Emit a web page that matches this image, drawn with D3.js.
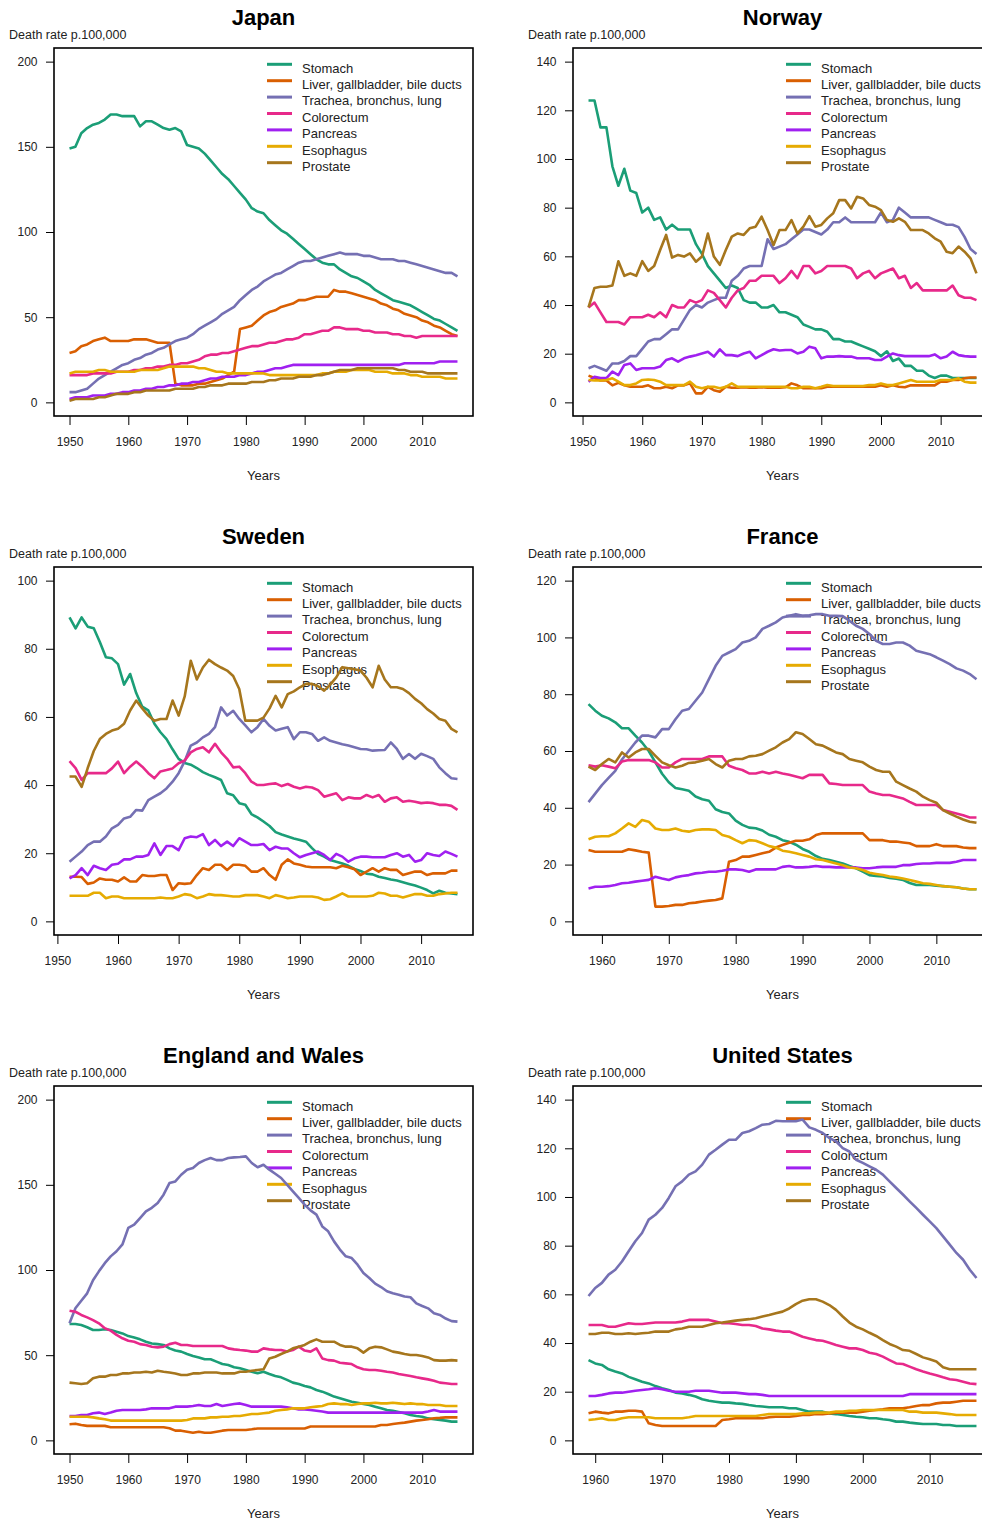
<!DOCTYPE html>
<html>
<head>
<meta charset="utf-8">
<script src="https://cdn.jsdelivr.net/npm/d3@7"></script>
<style>
  body { margin: 0; background: #fff; overflow: hidden; }
  svg { display: block; }
  text { font-family: "Liberation Sans", Arial, sans-serif; fill: #222; }
</style>
</head>
<body>
<svg id="chart" width="982" height="1519"></svg>
<script>
// --- categories / settings ---
const cancers = ["Stomach", "Liver, gallbladder, bile ducts", "Trachea, bronchus, lung",
  "Colorectum", "Pancreas", "Esophagus", "Prostate"];
const colors = ["#1b9e77", "#d95f02", "#7570b3", "#e7298a", "#a020f0", "#e6ab02", "#a6761d"];
const countries = ["Japan", "Norway", "Sweden", "France", "England and Wales", "United States"];
const firstYears = [1950, 1951, 1952, 1958, 1950, 1959];
const yMax = [200, 140, 100, 120, 200, 140];
const yStep = [50, 20, 20, 20, 50, 20];
const xTicks = [1950, 1960, 1970, 1980, 1990, 2000, 2010];

// --- Japan 1950-2016 ---
const japanStomach = [149,150,158,161,163,164,166,169,169,168, 168,168,162,165,165,163,161,160,161,159,
  151,150,149,146,142,138,134,131,127,123, 119,114,112,111,107,104,101,99,96,93,
  90,87,84,82,81,81,78,76,74,73, 71,69,66,64,62,60,59,58,57,55, 53,51,49,48,46,44,42];
const japanLiver = [29,30,33,34,36,37,38,36,36,36, 36,37,37,37,36,35,35,35,11,10,
  10,10,11,11,12,13,14,16,18,43, 44,45,48,51,53,54,56,57,58,60,
  60,61,62,62,62,66,65,65,64,63, 62,61,60,58,57,55,54,52,51,50, 48,47,45,44,42,40,39];
const japanTrachea = [6,6,7,8,11,14,16,18,20,22, 23,25,26,28,29,31,32,34,36,37,
  38,40,43,45,47,49,52,54,56,60, 63,66,68,71,73,75,76,78,80,82,
  83,83,84,85,86,87,88,87,87,87, 86,86,85,84,84,84,83,83,82,81, 80,79,78,77,76,76,74];
const japanColorectum = [16,16,16,16,17,17,17,17,18,18, 18,19,19,20,20,21,21,22,22,23,
  23,24,25,27,28,28,29,29,30,31, 32,33,33,34,35,35,36,37,37,38,
  40,40,41,42,42,44,44,43,43,43, 42,42,41,41,41,40,40,39,39,38, 39,39,39,39,39,39,39];
const japanPancreas = [2,3,3,3,4,4,4,5,5,6, 6,7,7,8,8,9,9,10,10,11,
  11,12,12,13,14,14,15,15,15,16, 16,17,18,18,19,20,20,21,22,22,
  22,22,22,22,22,22,22,22,22,22, 22,22,22,22,22,22,22,23,23,23, 23,23,23,24,24,24,24];
const japanEsophagus = [17,18,18,18,18,19,19,18,18,18, 18,18,19,19,19,19,20,21,21,21,
  21,21,20,20,19,18,18,17,17,17, 17,17,17,17,16,16,16,16,16,16,
  16,16,16,17,17,18,18,18,19,19, 19,19,18,18,18,17,17,17,16,16, 15,15,15,15,14,14,14];
const japanProstate = [1,2,2,2,2,3,3,4,5,5, 5,6,6,7,7,7,7,7,8,8,
  8,8,9,9,10,10,10,11,11,11, 11,12,12,12,13,13,14,14,14,15,
  15,15,16,16,17,18,19,19,19,20, 20,20,20,20,20,20,19,19,18,18, 18,17,17,17,17,17,17];

// --- Norway 1951-2016 ---
const norwayStomach = [124,124,113,113,97,89,96,87,86,78, 80,75,76,71,73,71,71,71,65,61,
  56,53,50,47,48,47,42,41,41,39, 39,40,37,37,36,35,32,31,30,30,
  29,26,26,25,25,24,23,22,21,19, 21,17,18,15,15,13,13,11,10,11, 11,10,10,10,10,10];
const norwayLiver = [11,10,9,9,7,8,7,6.4,6.4,6.4, 7,5.8,5.8,6.4,5.8,7,7,7.8,3.7,3.7,
  6.4,5,4.4,6.4,6,6,6.2,6,6,6.2, 6,6,6,6.2,7.8,7,5.8,5.8,5.8,5.8,
  6.4,6.4,6.4,6.4,6.4,6.4,6.4,6.4,6.4,7, 6.4,7,6.4,6.2,7,7,7,7,7,8.5, 8.5,9.2,9.2,9.9,10.2,10.2];
const norwayTrachea = [14,15,14,13,16,16,17,19,19,22, 25,26,26,28,30,30,34,38,40,39,
  41,42,43,43,50,52,55,56,56,56, 67,63,64,65,67,69,71,71,70,69,
  71,74,74,76,74,74,74,74,74,78, 74,75,80,78,76,76,76,76,75,74, 73,73,72,68,63,61];
const norwayColorectum = [39,41,37,33,33,33,32,35,35,35, 36,35,37,35,40,39,39,42,41,42,
  46,45,42,39,43,46,47,50,50,52, 52,52,49,51,54,51,56,56,53,54,
  56,56,56,56,55,51,53,54,51,53, 54,55,51,52,47,49,46,46,46,46, 46,48,44,43,43,42];
const norwayPancreas = [8.5,10.5,10,10,12.6,11.2,15.4,16,13.3,14, 14,14,14.7,17.4,18.1,16.7,18.1,18.8,19.4,20.1,
  20.8,18.8,21.8,19.4,19.4,19,20.1,20.8,18.1,19.4, 20.8,21.8,21.3,21.5,21.5,20.1,20.8,22.9,22.2,18.1,
  18.8,18.8,19,18.8,18.8,18.1,18.1,18.1,17.4,17.4, 18.8,20.1,19.4,19,19,19,19,19,19.7,18.1, 18.8,20.8,19.4,19,18.8,18.8];
const norwayEsophagus = [9.2,9,9,9.2,9.9,8.5,7.1,7.1,7.8,9.2, 9.4,9.2,8.5,7.1,7.1,7.1,7.1,8.5,6.4,5.8,
  6.4,6.4,5.8,6.4,7.8,6.4,6.4,6.4,6.4,6.4, 6.4,6.4,6.4,6.4,5.8,5.8,6.4,6.4,5.8,6.4,
  7.1,6.7,6.7,6.7,6.7,6.7,6.7,7.1,7.1,7.8, 7.1,7.1,7.8,8.5,9.2,8.5,8.5,8.5,8.5,9.2, 9.2,9.2,9.9,8.5,8.1,8.1];
const norwayProstate = [39,47,47.5,47.5,48,58,52,53,52,58, 54,56,62.6,68.8,59.5,60.6,59.9,61.2,57.8,59.9,
  69.4,59.9,56.5,62.6,68.1,69.4,68.8,71.5,72.2,76.3, 70.8,64.7,70.8,70.8,74.9,69.4,72.2,76.5,72.2,72.9,
  75.6,77.7,83.1,83.1,79.7,84.5,83.8,81.1,80.4,79, 74.9,74.2,75.6,74.2,70.8,70.8,70.8,69.4,67.4,66, 61.9,61.3,64,61.9,59.2,53];

// --- Sweden 1952-2016 ---
const swedenStomach = [89.2,86,89.2,86.5,86,82,77.5,77.2,75.5,69.5, 72.6,67,63,61.9,58,55.5,53.5,50.5,47.7,46.5,
  46,45,43.8,43,42.3,41.5,37.6,37,34.7,34.2, 31.5,30.5,29.3,28,26.2,25.5,24.9,24.3,23.9,23.4,
  21.5,19.8,19,18,17.5,17,16.3,15.4,14.8,14, 13.8,13.1,12.7,12.3,12,11.5,11,10.5,9.9,9.2, 8.2,9,8.4,8.2,8];
const swedenLiver = [13.1,13.1,13,11,11.4,12.6,12.2,12.2,11.7,12.9, 11.7,11.7,13.6,13.3,13.3,13.6,13.6,9.2,11.2,11,
  11.2,13.6,15.6,15.1,16.6,16.6,15.1,16.6,16.6,16.3, 14.6,14.6,15.6,13.6,12.2,16.6,18.2,17,16.6,16.1,
  15.9,15.9,15.9,15.9,15.6,16.3,15.9,15.3,13.6,14.6, 15.6,14.6,15.6,15.1,15.1,13.6,14.1,14.6,14.6,13.6, 14.1,14.1,14.1,14.9,14.9];
const swedenTrachea = [17.5,19,20.5,22.4,23.4,23.4,24.9,27.3,28.3,30.2, 30.7,32.7,32.5,35.6,36.6,37.6,39,41,43.5,47,
  51.6,52.5,54,55,57,62.8,60.4,61.8,59.4,57.5, 55.5,57,59.4,57.4,56,56.5,57,53.5,55.5,55.5,
  55,53,54,53,52.5,52,51.6,51.1,50.6,50.5, 50.1,50.2,50.3,52.5,50.6,47.7,49.1,47.7,49.2,48.5, 47.7,45.2,43.5,42,41.8];
const swedenColorectum = [47,45,41.5,43.5,43.5,43.5,43.5,44.9,46.9,43.5, 45.4,46.9,45.4,43.5,42,44,44.4,44.9,46.4,47.2,
  49.6,50.6,51.1,49.6,52.1,49.6,47.7,45.2,45.4,43.5, 41,40,40,40.3,40.5,39.7,40.3,39.5,39,39.5,
  39.3,38.5,36.6,37.1,37.6,35.6,36.4,36.1,36.1,37.1, 36.4,37.1,35.1,36.1,36.4,35.1,35.4,35.1,34.7,34.9, 34.7,34.2,34.2,33.9,32.7];
const swedenPancreas = [12.6,13.6,15.6,13.6,16.3,15.6,15.1,16.6,16.9,18.2, 18.2,19,19,19.5,22.9,19.5,22.1,22.1,20.9,24.4,
  24.9,24.7,25.6,22.4,23.9,22.1,23.4,22.1,24.4,23.4, 22.4,22.4,22.7,20.9,21.9,21.4,21.4,20,18.8,19.5,
  20,20.5,19.5,18,19.8,19,17.5,18.5,19,19, 18.8,18.8,18.8,19.5,20,19,19.5,17.5,18,20, 19.5,19.2,20.5,19.8,19];
const swedenEsophagus = [7.5,7.5,7.5,7.5,8.4,8.4,6.8,7.3,7.3,6.8, 6.8,6.8,6.8,6.8,6.8,7,6.8,6.8,7.3,8,
  7.7,6.8,7.3,8,7.7,7.7,7.5,7.3,7.3,7.7, 7.7,7.7,7.3,6.8,7.7,7.3,6.8,7,7.3,7.3,
  7.3,7,6.3,6.5,7.3,8.2,7.3,7.3,7.3,7.3, 7.5,8.4,8.2,7.5,7.5,7,7.5,8,8,7.5, 7.5,8,8.2,8.4,8.4];
const swedenProstate = [42.5,42.5,39.5,45,50,53.5,55,56,56.5,58, 61.9,64.8,62.5,60.4,58.9,59.4,59.4,64.8,60.4,66,
  76.5,71,74.5,76.8,75.5,74.5,73.6,72,68.2,58.9, 58.9,58.9,59.8,62.5,66.2,62.8,66.7,67.5,68.7,69.7,
  69.7,69,67.7,69.5,71.6,74.6,74.3,74,73.6,71.5, 68.7,75,71,68.7,68.7,68.2,67,65.3,64,62.3, 61,59.4,58.9,56.5,55.5];

// --- France 1958-2016 ---
const franceStomach = [76.5,74.2,72.4,71.5,70.1,68,68,65.4,63,60, 56,52,49,47,46.5,46,44,43,42.5,39.5,
  38.5,38,35.5,34,33,32.8,32,30.5,29.8,28.6, 28,27,25.5,24.5,23,22,21.6,21,20.4,19.5,
  18.7,17.5,16.3,16,15.8,15.3,15,14.6,13.5,12.8, 12.8,12.8,12.6,12.4,12.2,12,11.6,11.3,11.3];
const franceLiver = [25.1,24.5,24.5,24.5,24.5,24.5,25.4,25,24.5,24.2, 5.2,5.2,5.4,5.8,5.8,6.4,6.6,7,7.3,7.5,
  8.1,21,21.6,22.8,22.8,23.4,24,24.5,26,26.9, 27.7,28.4,28.4,28.9,30.4,31,31,31,31,31,
  31,31,28.6,28.6,28.6,28.1,28.1,27.8,27.5,26.5, 26.5,26.5,27.2,26.5,26.5,26.5,26,25.8,25.8];
const franceTrachea = [42,45,48,50.5,53,57,60,63,65.4,65.4, 64.8,67.7,67.7,71.2,74.2,74.8,77.7,80.6,85.3,90,
  93.5,94.7,95.9,98.2,98.8,100,103,104.1,105.3,107, 107.6,108.2,107.6,107.8,108.2,108.2,107.6,107.6,107.5,105.9,
  104.1,103,101.2,98.8,97.7,97.7,98.2,98.2,97.1,95.3, 94.7,94.1,93,91.8,90.6,89.1,88.3,87.1,85.3];
const franceColorectum = [55,54.5,55,54.5,53.9,56.3,56.8,56.8,56.8,56.8, 56,54.2,54.2,56,57.2,57.2,57.2,57.2,58.1,58.1,
  58.1,54.8,53.9,53.3,52.1,52.1,52.7,52.1,52.7,52.1, 51.6,51,50.4,51.6,51.6,51.6,48.6,48.4,48,48,
  48,48,45.7,45,44.5,44.5,43.9,43.3,42.1,41, 41,41,41,39.2,38.6,38,37.4,36.6,36.6];
const francePancreas = [11.6,12.2,12.2,12.4,12.8,13.4,13.6,14,14.3,14.6, 15.7,15.1,14.6,15.5,16,16.3,16.9,17.1,17.5,17.5,
  17.8,18.3,18.3,18.1,17.5,18.3,18.3,18.3,18.3,19.2, 19.5,19,19,19.2,19.5,19.2,19.2,19,19,19,
  19,18.7,18.7,19,19.2,19.2,19.2,19.8,19.8,20.2, 20.4,20.4,20.6,20.6,20.6,21,21.6,21.6,21.6];
const franceEsophagus = [28.9,29.8,30,30,31,32.7,34.5,33.3,35.7,35.1, 32.7,32.2,32.2,32.7,31.9,31.6,32.2,32.4,32.4,32.2,
  30.4,29.8,28.6,27.5,28.6,28.4,27.5,26.5,26,24.9, 24.5,24,23.4,22.8,21.9,21.6,21,20.4,19.8,19,
  18.7,18.1,17.1,16.7,16.3,15.8,15.5,15.1,14.6,14, 13.4,13.2,12.8,12.4,12.2,12,11.6,11.3,11.3];
const franceProstate = [54.5,53.3,55.4,57.2,56,59.5,57.7,59.5,60.7,60.7, 58.3,56,55,54.2,54.8,55.8,56,56.6,57.2,55.4,
  54.2,56.6,57.2,57.2,58.1,58.3,58.9,60.1,61.3,63, 64.2,66.6,66,64.2,62.4,61.9,60.7,59.5,58.9,57.2,
  56.6,56,54.5,53.3,52.7,52.7,49.2,48,46.8,45.7, 43.9,42.7,41.8,39.2,38,36.9,35.9,35.1,34.7];

// --- England and Wales 1950-2016 ---
const englandStomach = [68.3,68.3,67.7,66.4,64.8,64.8,65.2,64.8,63.8,62.8, 61.2,60.4,59.3,57.9,56.9,56.5,56,54,52.7,52.1,
  50.7,49.5,48.7,47.6,47.6,46.2,44.8,44.2,42.9,42.3, 41.3,40.3,39.4,40.3,39,37.8,37,35.5,33.9,33.1,
  31.9,31.1,29.6,28.6,27.2,25.7,24.7,23.7,22.7,22.1, 21.3,20.8,19.8,18.8,17.8,17.3,16.7,15.9,14.9,14.3, 13.9,12.9,12.4,12,11.6,11,11];
const englandLiver = [9.5,9.8,9,8.5,8.5,8.5,8.5,7.7,7.7,7.7, 7.7,7.7,7.7,7.7,7.7,7.7,7.7,7.1,5.7,5.7,
  5.1,4.5,5.1,4.5,4.5,5.1,5.7,6.1,6.1,6.1, 6.1,6.5,7,7,7,7,7,7,7,7,
  7,8.1,8.1,8.1,8.1,8.1,8.1,8.1,8.1,8.1, 8.1,8.1,8.1,9,9,9.6,10,10.4,11,11.6, 12,12.4,13,13.2,13.5,13.5,13.5];
const englandTrachea = [68.7,77.5,82,86.3,94,99.2,104,108,111,115, 124.7,126.6,130.5,134.4,136.5,139.3,144.2,151,152,155.9,
  158.9,159.9,162.8,164.5,165.7,164.5,164.5,165.7,166.1,166.3, 166.7,162.8,160.3,161.8,158.9,156.5,154,150.1,146.2,142.3,
  138.3,135,132.5,125.6,122.7,116.8,112,108,107,103.1, 98.2,95.3,92,90,87.5,86.3,85.5,84.4,84,80.4, 78.9,77.5,74.6,73.6,71.5,70,69.7];
const englandColorectum = [76.1,75.5,73.6,72.2,70.6,68.7,65.8,64.4,61.9,59.9, 58.5,57.9,56.5,56,55,54.6,55,56.5,57.3,56,
  56,55.4,55.4,55.4,55.4,55.4,55.4,54,53.4,53, 52.7,52.1,52.1,54,53.4,53,53,52.1,53,55,
  52.7,52.1,54,48.1,47.1,46.8,45.6,45.2,44.8,42.9, 41.7,41.3,41.3,40.9,40.3,39.8,39,38.4,37.8,37, 36.4,35.8,35,33.9,33.5,33.1,33.1];
const englandPancreas = [14.3,14.3,14.9,14.9,15.9,16.3,15.5,16.3,17.4,17.8, 17.8,17.8,17.8,18.2,18.8,18.8,18.8,18.8,19.8,19.8,
  19.8,20.2,20.8,20.2,20.2,21.3,20.2,20.8,21.3,21.7, 20.8,19.8,19.8,19.8,19.8,19.8,19.8,19.4,18.8,18.2,
  18.2,17.8,17.4,16.9,16.3,16.3,16.3,16.3,16.3,16.3, 16.3,16.3,16.3,16.3,16.3,16.3,16.3,16.3,16.3,16.3, 16.3,16.9,17.8,16.9,16.9,16.9,16.9];
const englandEsophagus = [13.9,13.9,13.9,13.9,13.5,12.9,12.4,11.6,11.6,11.6, 11.6,11.6,11.6,11.6,11.6,11.6,11.6,11.6,11.6,11.6,
  12,12.9,12.9,12.9,13.5,13.5,13.9,13.9,14.3,14.3, 14.9,15.5,15.5,15.9,16.3,17.4,17.8,18.2,18.8,18.8,
  18.8,19.4,19.8,20.2,21.3,21.7,21.3,21.3,20.8,21.3, 21.7,21.7,22.1,21.7,21.7,22.1,21.7,21.3,21.7,21.3, 21.3,20.8,20.8,20.8,20.2,20.2,20.2];
const englandProstate = [33.9,33.5,33.1,33.5,36.4,37.4,37.4,38.4,38.4,39.3, 39.3,39.8,39.8,40.3,39.8,40.9,40.3,39.8,39.3,38.4,
  38.4,39.3,39.3,39.8,39.8,39.8,39.3,39.3,39.3,40.3, 40.3,40.9,41.3,41.7,48.1,49.1,50.7,52.1,54,55,
  56,57.9,59.3,57.9,57.9,57.9,56,55,55,54, 51.5,54,55,54.6,53.4,52.1,51.5,50.7,50.1,50.1, 49.5,48.7,47.1,46.8,46.8,47.1,46.8];

// --- United States 1959-2017 ---
const usStomach = [33,31.6,31,29.2,28.3,27.5,26.1,25.1,24.1,23.4, 22.3,21.4,20.7,19.6,19.3,18.7,18,16.9,16.3,15.9,
  15.5,15.5,15.2,15,14.5,14.1,13.9,13.6,13.6,13.6, 13.2,13.2,12.5,11.8,11.8,11.8,11.1,10.8,10.4,10,
  9.7,9.5,9.1,9.1,8.7,8.4,7.7,7.7,7.3,7, 6.7,6.7,6.7,6.3,6.3,5.9,5.9,5.9,5.9];
const usLiver = [11.1,11.8,11.4,11.1,11.8,11.8,12.2,12.2,11.8,7, 6.3,5.9,5.9,5.9,5.9,5.9,5.9,5.9,5.9,5.9,
  8.4,8.7,9.1,9.1,9.1,9.1,9.1,9.5,9.7,9.7, 9.7,10,10.4,10.4,10.8,10.8,11.1,11.4,11.4,11.4,
  11.4,11.8,12.2,12.5,12.8,13.2,13.2,13.2,13.6,14.1, 14.5,14.5,15.2,15.5,15.5,15.9,16.3,16.3,16.3];
const usTrachea = [59.3,62.6,64.7,68.1,70.1,73.5,77.7,81.8,85.2,90.7, 92.7,95.5,99.6,104.4,106.4,109.2,110.5,113.3,117.4,119.4,
  121.5,123.5,123.5,126.3,127,128.3,129.7,130,131.3,131.1, 131.1,131.1,131.8,128.6,127.6,126.3,124.2,122.9,120.1,118.7,
  115.3,114,112.6,111.2,109.2,106.4,103.7,101,98.2,95.5, 92.7,90,87.2,83.8,80.4,77,74.2,70.1,66.7];
const usColorectum = [47.4,47.4,47.4,46.7,46.7,47.4,48.1,47.8,47.8,48.1, 48.4,48.4,48.4,48.4,48.8,49.5,49.5,49.5,49.5,48.8,
  48.1,48.1,47.8,47.4,47.4,47,46,45.6,45.1,44.7, 44.7,43.7,42.6,41.9,41.2,40.9,40.1,39.2,38.5,37.8,
  37.8,37.1,36,35.5,34.4,33,31.6,31.4,30.3,29.2, 28.3,27.5,26.8,25.9,25.1,24.8,24.1,23.4,23.1];
const usPancreas = [18.2,18.2,18.7,19.3,19.6,19.6,20,20.4,20.7,21, 21.4,21,20.4,20,20,20,20.4,20.4,20.4,20,
  19.6,19.6,19.6,19.3,19,19,18.7,18.2,18.2,18.2, 18.2,18.2,18.2,18.2,18.2,18.2,18.2,18.2,18.2,18.2,
  18.2,18.2,18.2,18.2,18.2,18.2,18.2,18.2,19,19, 19,19,19,19,19,19,19,19,19];
const usEsophagus = [8.4,8.7,9.1,8.4,8.4,9.1,9.5,9.5,9.5,9.5, 9.1,9.1,9.1,9.1,9.1,9.5,10,10,10,10,
  10,10,10,10,10,10,10.4,10.8,10.8,10.8, 10.8,10.8,11.1,11.1,11.4,11.4,11.4,11.8,11.8,12.2,
  12.2,12.5,12.5,12.5,12.5,12.5,12.5,12.5,11.8,11.8, 11.4,11.4,11.4,11.1,10.8,10.4,10.4,10.4,10.4];
const usProstate = [43.7,43.7,44.2,44.2,43.7,43.7,44,43.7,44,44.2, 44.7,44.7,44.7,45.6,46,46.7,46.7,46.7,47.4,48.1,
  48.4,48.8,49.2,49.5,49.8,50.2,50.9,51.5,52.2,52.9, 54.2,56,57.4,58,58,57,55.6,53.6,50.9,48.4,
  46.7,45.6,44.2,42.9,41.2,39.6,38.5,37.1,36.8,35.5, 34.1,33.3,32.4,30,29.2,29.2,29.2,29.2,29.2];

const seriesByCountry = [
  [japanStomach, japanLiver, japanTrachea, japanColorectum, japanPancreas, japanEsophagus, japanProstate],
  [norwayStomach, norwayLiver, norwayTrachea, norwayColorectum, norwayPancreas, norwayEsophagus, norwayProstate],
  [swedenStomach, swedenLiver, swedenTrachea, swedenColorectum, swedenPancreas, swedenEsophagus, swedenProstate],
  [franceStomach, franceLiver, franceTrachea, franceColorectum, francePancreas, franceEsophagus, franceProstate],
  [englandStomach, englandLiver, englandTrachea, englandColorectum, englandPancreas, englandEsophagus, englandProstate],
  [usStomach, usLiver, usTrachea, usColorectum, usPancreas, usEsophagus, usProstate]
];

// --- layout ---
const PANEL = 519;
const plot = { left: 54, right: 473, top: 48, bottom: 416 };
const svg = d3.select("#chart");

function drawPanel(k) {
  const g = svg.append("g")
    .attr("transform", `translate(${(k % 2) * PANEL},${Math.floor(k / 2) * PANEL})`);
  const series = seriesByCountry[k];
  const first = firstYears[k];
  const last = first + series[0].length - 1;
  const padX = (last - first) * 0.04;
  const padY = yMax[k] * 0.04;

  const x = d3.scaleLinear().domain([first - padX, last + padX]).range([plot.left, plot.right]);
  const y = d3.scaleLinear().domain([-padY, yMax[k] + padY]).range([plot.bottom, plot.top]);

  // title and axis captions
  g.append("text").attr("x", (plot.left + plot.right) / 2).attr("y", 25)
    .attr("text-anchor", "middle").style("font-size", "22px").style("font-weight", "bold")
    .style("fill", "#000").text(countries[k]);
  g.append("text").attr("x", 9).attr("y", 38.5).style("font-size", "12.5px")
    .text("Death rate p.100,000");
  g.append("text").attr("x", (plot.left + plot.right) / 2).attr("y", 479.5)
    .attr("text-anchor", "middle").style("font-size", "13px").text("Years");

  // axes
  const yAxis = g.append("g").attr("transform", `translate(${plot.left},0)`)
    .call(d3.axisLeft(y).tickValues(d3.range(0, yMax[k] + 1, yStep[k]))
      .tickSize(8).tickPadding(8.5).tickFormat(d3.format("d")));
  const xAxis = g.append("g").attr("transform", `translate(0,${plot.bottom})`)
    .call(d3.axisBottom(x).tickValues(xTicks.filter(t => t >= x.domain()[0] && t <= x.domain()[1]))
      .tickSize(9).tickPadding(12.5).tickFormat(d3.format("d")));
  [yAxis, xAxis].forEach(a => {
    a.select(".domain").remove();
    a.selectAll(".tick line").attr("stroke", "#000");
    a.selectAll(".tick text").style("font-size", "12px").style("fill", "#222")
      .style("font-family", '"Liberation Sans", Arial, sans-serif');
  });

  // legend (lines are drawn over it)
  const leg = g.append("g");
  cancers.forEach((name, i) => {
    const ly = 64.3 + i * 16.4;
    leg.append("line").attr("x1", 267).attr("x2", 292).attr("y1", ly).attr("y2", ly)
      .attr("stroke", colors[i]).attr("stroke-width", 3);
    leg.append("text").attr("x", 302).attr("y", ly + 8.3).style("font-size", "13px").text(name);
  });

  // series
  const line = d3.line().x((d, j) => x(first + j)).y(d => y(d));
  series.forEach((vals, i) => {
    g.append("path").datum(vals)
      .attr("fill", "none").attr("stroke", colors[i]).attr("stroke-width", 2.6)
      .attr("stroke-linejoin", "round").attr("d", line);
  });

  // frame
  g.append("rect").attr("x", plot.left).attr("y", plot.top)
    .attr("width", plot.right - plot.left).attr("height", plot.bottom - plot.top)
    .attr("fill", "none").attr("stroke", "#000").attr("stroke-width", 1.6);
}

countries.forEach((c, k) => drawPanel(k));
</script>
</body>
</html>
